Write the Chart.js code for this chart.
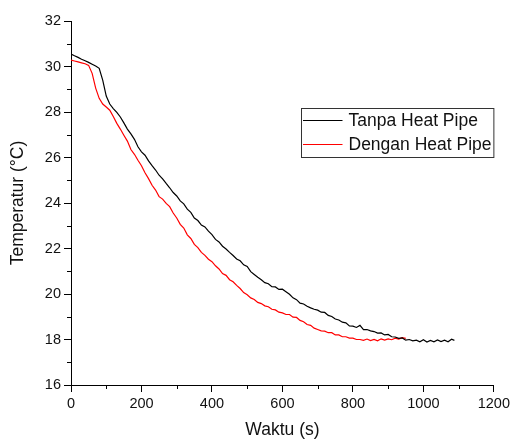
<!DOCTYPE html>
<html>
<head>
<meta charset="utf-8">
<script src="https://cdn.jsdelivr.net/npm/chart.js@4/dist/chart.umd.min.js"></script>
<style>
html,body{margin:0;padding:0;background:#fff;}
#wrap{width:513px;height:441px;}
</style>
</head>
<body>
<div id="wrap"><canvas id="c" width="513" height="441"></canvas></div>
<script>
const seriesNames = ["Tanpa Heat Pipe", "Dengan Heat Pipe"];
const xTitle = "Waktu (s)";
const yTitle = "Temperatur (\u00B0C)";

const timeTanpa = [0,10,20,30,40,50,60,70,80,90,100,110,120,130,140,150,160,170,180,190,200,210,220,230,240,250,260,270,280,290,300,310,320,330,340,350,360,370,380,390,400,410,420,430,440,450,460,470,480,490,500,510,520,530,540,550,560,570,580,590,600,610,620,630,640,650,660,670,680,690,700,710,720,730,740,750,760,770,780,790,800,810,820,830,840,850,860,870,880,890,900,910,920,930,940,950,960,970,980,990,1000,1010,1020,1030,1040,1050,1060,1070,1080,1088];
const tempTanpa = [30.55,30.47,30.40,30.32,30.25,30.18,30.10,30.02,29.92,29.40,28.70,28.35,28.15,27.98,27.78,27.52,27.25,27.04,26.80,26.47,26.25,26.10,25.85,25.64,25.45,25.22,25.06,24.86,24.67,24.46,24.31,24.09,23.96,23.73,23.59,23.34,23.23,23.03,22.95,22.76,22.61,22.40,22.29,22.10,21.98,21.83,21.69,21.54,21.46,21.28,21.21,20.98,20.86,20.74,20.63,20.50,20.45,20.32,20.31,20.20,20.21,20.10,19.99,19.83,19.75,19.60,19.56,19.46,19.39,19.33,19.29,19.20,19.19,19.06,19.01,18.90,18.86,18.76,18.73,18.60,18.59,18.53,18.62,18.43,18.44,18.38,18.35,18.28,18.29,18.20,18.22,18.12,18.11,18.05,18.07,17.97,18.00,17.94,17.97,17.90,17.99,17.89,17.96,17.90,17.98,17.91,17.97,17.90,18.01,17.96];

const timeDengan = [0,10,20,30,40,50,60,70,80,90,100,110,120,130,140,150,160,170,180,190,200,210,220,230,240,250,260,270,280,290,300,310,320,330,340,350,360,370,380,390,400,410,420,430,440,450,460,470,480,490,500,510,520,530,540,550,560,570,580,590,600,610,620,630,640,650,660,670,680,690,700,710,720,730,740,750,760,770,780,790,800,810,820,830,840,850,860,870,880,890,900,910,920,930,940,950];
const tempDengan = [30.28,30.24,30.20,30.16,30.12,30.05,29.70,29.05,28.60,28.35,28.22,28.08,27.80,27.50,27.25,26.98,26.72,26.35,26.14,25.88,25.64,25.33,25.07,24.78,24.57,24.28,24.17,23.98,23.84,23.56,23.34,23.06,22.90,22.60,22.44,22.18,22.04,21.83,21.70,21.53,21.42,21.24,21.10,20.90,20.82,20.63,20.54,20.38,20.24,20.06,19.97,19.83,19.76,19.63,19.58,19.48,19.44,19.33,19.30,19.20,19.17,19.10,19.10,18.98,18.97,18.84,18.78,18.66,18.62,18.50,18.44,18.38,18.37,18.30,18.30,18.20,18.20,18.12,18.12,18.06,18.06,18.00,18.00,17.96,18.02,17.95,18.00,17.94,18.03,17.97,18.03,17.99,18.06,18.02,18.08,18.05];

const xMin = 0, xMax = 1200, xStep = 200, xMinor = 100;
const yMin = 16, yMax = 32, yStep = 2, yMinor = 1;

const FONT = "'Liberation Sans', Arial, sans-serif";

function pts(xs, ys){ return xs.map((x,i)=>({x:x, y:ys[i]})); }

const minorTicks = {
  id: 'minorTicks',
  afterDraw(chart){
    const ctx = chart.ctx, xs = chart.scales.x, ys = chart.scales.y;
    const ca = chart.chartArea;
    ctx.save();
    ctx.strokeStyle = '#000';
    ctx.lineWidth = 1;
    ctx.beginPath();
    for (let v = xMin + xMinor; v < xMax; v += xStep) {
      const px = Math.round(xs.getPixelForValue(v)) + 0.5;
      ctx.moveTo(px, ca.bottom); ctx.lineTo(px, ca.bottom + 4);
    }
    for (let v = yMin + yMinor; v < yMax; v += yStep) {
      const py = Math.round(ys.getPixelForValue(v)) + 0.5;
      ctx.moveTo(ca.left - 4, py); ctx.lineTo(ca.left, py);
    }
    ctx.stroke();
    ctx.restore();
  }
};

const boxLegend = {
  id: 'boxLegend',
  afterDraw(chart){
    const ctx = chart.ctx;
    const ca = chart.chartArea;
    const bx = 301.5, by = 108.5, bw = ca.right - 301.5, bh = 49;
    ctx.save();
    ctx.strokeStyle = '#333';
    ctx.lineWidth = 1;
    ctx.fillStyle = '#fff';
    ctx.fillRect(bx, by, bw, bh);
    ctx.strokeRect(bx, by, bw, bh);
    ctx.font = "17.5px " + FONT;
    ctx.textBaseline = 'middle';
    ctx.textAlign = 'left';
    chart.data.datasets.forEach((ds, i) => {
      const y = by + 12 + i * 24;
      ctx.strokeStyle = ds.borderColor;
      ctx.lineWidth = 1.2;
      ctx.beginPath();
      ctx.moveTo(bx + 1.5, y); ctx.lineTo(bx + 41, y);
      ctx.stroke();
      ctx.fillStyle = '#111';
      ctx.fillText(ds.label, bx + 47, y + 1);
    });
    ctx.restore();
  }
};

new Chart(document.getElementById('c'), {
  type: 'line',
  data: {
    datasets: [
      { label: seriesNames[0], data: pts(timeTanpa, tempTanpa), borderColor: '#000000', borderWidth: 1.2, pointRadius: 0, tension: 0, fill: false },
      { label: seriesNames[1], data: pts(timeDengan, tempDengan), borderColor: '#ff0000', borderWidth: 1.2, pointRadius: 0, tension: 0, fill: false }
    ]
  },
  options: {
    responsive: false,
    animation: false,
    devicePixelRatio: 1,
    layout: { padding: { left: 0, top: 21, right: 19, bottom: 0 } },
    plugins: { legend: { display: false }, tooltip: { enabled: false } },
    scales: {
      x: {
        type: 'linear', min: xMin, max: xMax,
        afterFit(s){ s.height = 56; },
        ticks: { stepSize: xStep, color: '#111', font: { family: FONT, size: 14.5 }, padding: 3, maxRotation: 0, callback: v => String(v) },
        grid: { drawOnChartArea: false, drawTicks: true, tickLength: 7, color: '#000', tickWidth: 1 },
        border: { display: true, color: '#000', width: 1 },
        title: { display: true, text: xTitle, color: '#111', font: { family: FONT, size: 17.5 }, padding: { top: 0, bottom: 0 } }
      },
      y: {
        type: 'linear', min: yMin, max: yMax,
        afterFit(s){ s.width = 71; },
        ticks: { stepSize: yStep, color: '#111', font: { family: FONT, size: 14.5 }, padding: 3, callback: v => String(v) },
        grid: { drawOnChartArea: false, drawTicks: true, tickLength: 7, color: '#000', tickWidth: 1 },
        border: { display: true, color: '#000', width: 1 },
        title: { display: true, text: yTitle, color: '#111', font: { family: FONT, size: 17.5 }, padding: { top: 8, bottom: 0 } }
      }
    }
  },
  plugins: [minorTicks, boxLegend]
});
</script>
</body>
</html>
